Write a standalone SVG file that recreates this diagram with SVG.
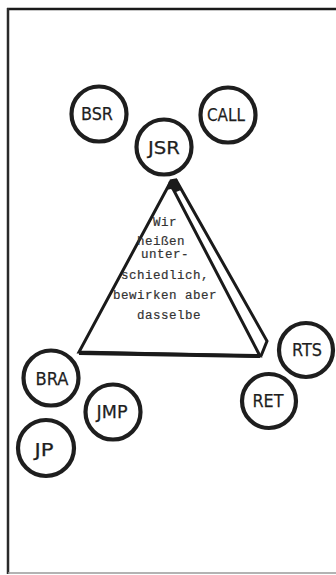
<svg xmlns="http://www.w3.org/2000/svg" width="336" height="575" viewBox="0 0 336 575">
<style>
.node circle{fill:#fff;stroke:#1e1e1e;stroke-width:4.2}
.node text{font-family:"DejaVu Sans","Liberation Sans",sans-serif;font-size:18px;fill:#1e1e1e;stroke:#1e1e1e;stroke-width:0.25;text-anchor:middle}
.tw{font-family:"Liberation Mono","Courier New",monospace;font-size:12.5px;letter-spacing:0.5px;fill:#333;stroke:#333;stroke-width:0.2;text-anchor:middle}
.edge{fill:none;stroke:#1a1a1a;stroke-linejoin:miter}
</style>
<rect width="336" height="575" fill="#fff"/>
<g id="frame">
<line x1="7" y1="9" x2="336" y2="9" stroke="#1a1a1a" stroke-width="2.5"/>
<line x1="8" y1="8" x2="8" y2="574" stroke="#2a2a2a" stroke-width="2.5"/>
<line x1="8" y1="573" x2="336" y2="573" stroke="#9a9a9a" stroke-width="1.5"/>
</g>
<g id="triangle">
<polygon class="edge" points="170,183 79,352 260,356" stroke-width="3"/>
<line class="edge" x1="79" y1="353" x2="260" y2="356" stroke-width="4"/>
<polyline class="edge" points="170,181 176,180 267,341 261,356" stroke-width="3"/>
<polygon points="169,181 177,179 181,190 176,192 171,189 166,190" fill="#1a1a1a"/>
<text class="tw" x="165" y="226">Wir</text>
<text class="tw" x="161" y="245">heißen</text>
<text class="tw" x="165" y="258">unter-</text>
<text class="tw" x="165" y="279">schiedlich,</text>
<text class="tw" x="165" y="299">bewirken aber</text>
<text class="tw" x="169" y="319">dasselbe</text>
</g>
<g id="BSR" class="node"><circle cx="99" cy="114" r="27.5"/><text x="97" y="120" textLength="32" lengthAdjust="spacingAndGlyphs">BSR</text></g>
<g id="CALL" class="node"><circle cx="228" cy="115" r="27.5"/><text x="226" y="121" textLength="38" lengthAdjust="spacingAndGlyphs">CALL</text></g>
<g id="JSR" class="node"><circle cx="164" cy="147" r="27.5"/><text x="164" y="154" textLength="32" lengthAdjust="spacingAndGlyphs">JSR</text></g>
<g id="RTS" class="node"><circle cx="306" cy="350" r="27"/><text x="307" y="356" textLength="30" lengthAdjust="spacingAndGlyphs">RTS</text></g>
<g id="BRA" class="node"><circle cx="51" cy="378" r="27.5"/><text x="52" y="385" textLength="33" lengthAdjust="spacingAndGlyphs">BRA</text></g>
<g id="JMP" class="node"><circle cx="113" cy="412" r="27.5"/><text x="112" y="418" textLength="31" lengthAdjust="spacingAndGlyphs">JMP</text></g>
<g id="JP" class="node"><circle cx="46" cy="448" r="28"/><text x="44" y="456" textLength="19" lengthAdjust="spacingAndGlyphs">JP</text></g>
<g id="RET" class="node"><circle cx="269" cy="401" r="27"/><text x="268" y="407" textLength="31" lengthAdjust="spacingAndGlyphs">RET</text></g>
</svg>
